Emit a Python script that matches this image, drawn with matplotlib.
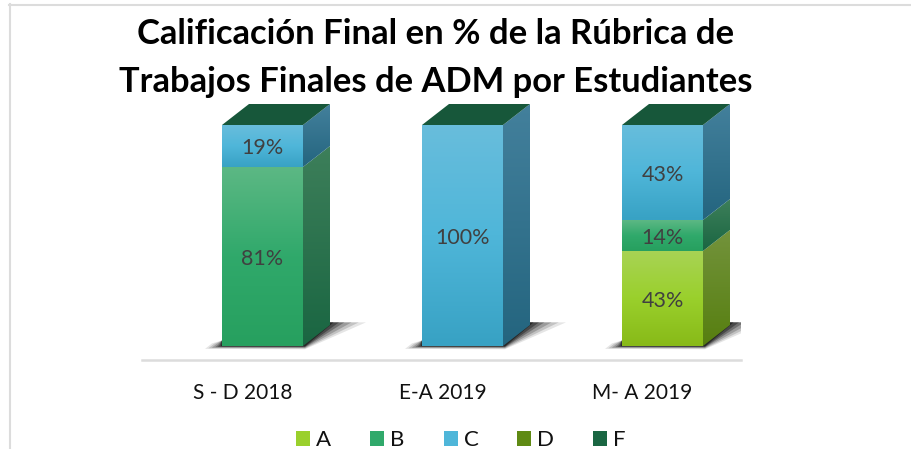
import numpy as np
from matplotlib import pyplot as plt
from matplotlib.colors import LinearSegmentedColormap
from matplotlib.patches import Patch, Polygon

plt.rcParams['font.family'] = ['Lato', 'DejaVu Sans']

W, H = 912, 449

# datos
periodos = ["S - D 2018", "E-A 2019", "M- A 2019"]
notas = ["A", "B", "C", "D", "F"]
val_a = [0, 0, 43]
val_b = [81, 0, 14]
val_c = [19, 100, 43]
val_d = [0, 0, 0]
val_f = [0, 0, 0]
series = [val_a, val_b, val_c, val_d, val_f]

# colores: claro, medio, oscuro
frente = [["#a8d355", "#9ad02c", "#88ba18"],
          ["#5cb884", "#30a96b", "#27a05f"],
          ["#68bddc", "#4fb6d9", "#38a2c4"],
          ["#6f9038", "#5f8a14", "#4f7510"],
          ["#3f7a5e", "#1a6642", "#155a3a"]]
lado = [["#73933c", "#577f10"],
        ["#3d7f5a", "#1a6642"],
        ["#43809c", "#24657f"],
        ["#5f8030", "#4a6c0c"],
        ["#2f6a4e", "#145236"]]
tapa = "#17573a"
etiquetas_color = "#404040"

fig = plt.figure(figsize=(W / 100, H / 100), dpi=100)
ax = fig.add_axes([142 / W, 1 - 360 / H, (741 - 142) / W, (360 - 100) / H])
xlim = (-120.5 / 200, (741 - 262.5) / 200)
ylim = (-14 / 2.21, (346 - 100) / 2.21)
ancho = 81 / 200
dx = 27 / 200
dy = 21 / 2.21


def cara(verts, colores, z):
    # cara con degradado vertical recortada al poligono
    verts = np.array(verts)
    cmap = LinearSegmentedColormap.from_list("c", colores)
    x0, x1 = verts[:, 0].min(), verts[:, 0].max()
    y0, y1 = verts[:, 1].min(), verts[:, 1].max()
    grad = np.linspace(0, 1, 64).reshape(-1, 1)
    im = ax.imshow(grad, cmap=cmap, extent=(x0, x1, y0, y1), aspect="auto",
                   origin="upper", zorder=z, interpolation="bilinear")
    im.set_clip_path(Polygon(verts, transform=ax.transData))


for i in range(3):
    x0, x1 = i - ancho / 2, i + ancho / 2
    # sombra: capas que se van cerrando hacia la barra
    for k, a in zip([1, 0.8, 0.6, 0.4, 0.25, 0.1], [0.10, 0.15, 0.20, 0.28, 0.35, 0.45]):
        ax.add_patch(Polygon([(x0 - 0.085 * k, -1.3 * k), (x1 + 0.01, -1.5 * k),
                              (x1 + dx + 0.18 * k, dy + 1.2), (x1 + dx, dy + 1.2),
                              (x0, 2.5), (x0 - 0.05 * k, 1.2 * k)],
                             closed=True, fc="black", ec="none", alpha=a, zorder=1))
    base = 0
    for s, serie in enumerate(series):
        v = serie[i]
        if v == 0:
            continue
        top = base + v
        cara([(x0, base), (x1, base), (x1, top), (x0, top)], frente[s], 3)
        cara([(x1, base), (x1 + dx, base + dy), (x1 + dx, top + dy), (x1, top)], lado[s], 2)
        ax.annotate("%d%%" % v, (i, base + v / 2), xytext=(0, -1.5), textcoords="offset points",
                    ha="center", va="center", fontsize=15.5, color=etiquetas_color, zorder=5)
        base = top
    ax.add_patch(Polygon([(x0, base), (x1, base), (x1 + dx, base + dy), (x0 + dx, base + dy)],
                         closed=True, fc=tapa, ec="none", zorder=4))

ax.set_xlim(xlim)
ax.set_ylim(ylim)
# las etiquetas quedan corridas a la izquierda de la barra
ax.set_xticks([i - 0.1 for i in range(3)])
ax.set_xticklabels(periodos, fontsize=15, color="#111111")
ax.set_yticks([])
ax.tick_params(axis="x", length=0, pad=16.5)
for lado_eje in ["top", "left", "right"]:
    ax.spines[lado_eje].set_visible(False)
ax.spines["bottom"].set_color("#dcdcdc")
ax.spines["bottom"].set_linewidth(1.8)
ax.patch.set_alpha(0)

fig.text(436 / W, 1 - 34 / H, "Calificación Final en % de la Rúbrica de", ha="center", va="center",
         fontsize=24.9, fontweight="bold", color="black")
fig.text(436 / W, 1 - 82 / H, "Trabajos Finales de ADM por Estudiantes", ha="center", va="center",
         fontsize=24.8, fontweight="bold", color="black")

handles = [Patch(fc=frente[s][1], ec="none", label=notas[s]) for s in range(5)]
fig.legend(handles=handles, ncol=5, frameon=False, fontsize=16, loc="center",
           bbox_to_anchor=(461 / W, 1 - 440.5 / H), handlelength=0.63, handleheight=0.68,
           handletextpad=0.27, columnspacing=1.75, labelcolor="#111111", borderpad=0)

# marco
fig.add_artist(plt.Line2D([10 / W, 10 / W], [0, 1 - 4 / H], color="#dcdcdc", lw=1.5))
fig.add_artist(plt.Line2D([9 / W, 1], [1 - 5 / H, 1 - 5 / H], color="#dcdcdc", lw=1.5))

fig.savefig("out.png", dpi=100)
